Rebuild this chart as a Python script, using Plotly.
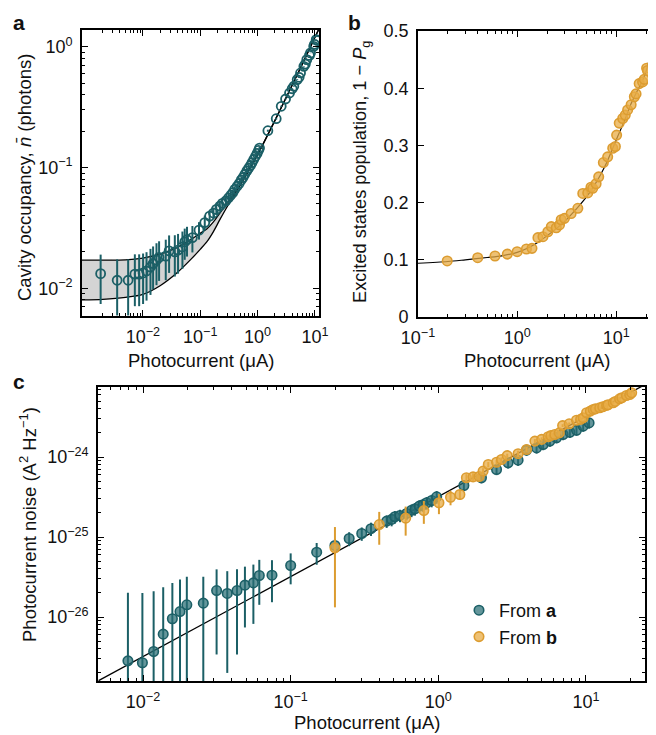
import plotly.graph_objects as go

# ---------------- data ----------------
# Panel a: cavity occupancy vs photocurrent (uA)
a_current = [0.00184, 0.00357, 0.00555, 0.00726, 0.00863, 0.0101, 0.0116, 0.0136, 0.0151, 0.0173,
             0.0192, 0.0251, 0.0287, 0.0361, 0.0411, 0.049, 0.0537, 0.0589, 0.0731, 0.0953,
             0.12, 0.146, 0.17, 0.191, 0.22, 0.243, 0.28, 0.31, 0.34, 0.37,
             0.40, 0.44, 0.48, 0.52, 0.56, 0.60, 0.65, 0.70, 0.75, 0.80,
             0.86, 0.92, 0.98, 1.04, 1.08, 1.51, 2.11, 2.58, 3.07, 3.6,
             4.0, 4.28, 4.9, 5.3, 5.6, 6.4, 6.8, 7.2, 8.0, 8.36, 9.5, 9.8, 10.5, 10.9]
a_occupancy = [0.0132, 0.01165, 0.01165, 0.0131, 0.0131, 0.0134, 0.0139, 0.0150, 0.0160, 0.0171,
               0.0180, 0.01845, 0.0204, 0.0200, 0.0207, 0.0220, 0.0242, 0.0253, 0.0263, 0.0303,
               0.035, 0.0396, 0.042, 0.045, 0.048, 0.0505, 0.053, 0.056, 0.059, 0.062,
               0.066, 0.070, 0.074, 0.079, 0.083, 0.088, 0.094, 0.099, 0.104, 0.110,
               0.117, 0.124, 0.131, 0.139, 0.145, 0.202, 0.254, 0.322, 0.37, 0.415,
               0.45, 0.472, 0.536, 0.56, 0.608, 0.69, 0.72, 0.785, 0.85, 0.891, 1.01, 1.05, 1.15, 1.13]
a_err = [0.0058, 0.0057, 0.0057, 0.006, 0.006, 0.006, 0.006, 0.0062, 0.0062, 0.0065,
         0.0065, 0.0068, 0.007, 0.0075, 0.0075, 0.0075, 0.007, 0.007, 0.0065, 0.005,
         0.005, 0.0045, 0.0045, 0.0045, 0.0045, 0.0045, 0.004, 0.004, 0.004, 0.004,
         0.004, 0.004, 0.004, 0.004, 0.004, 0.004, 0.004, 0.004, 0.004, 0.004,
         0.004, 0.004, 0.004, 0.004, 0.004, 0.004, 0.004, 0.004, 0.004, 0.004,
         0.004, 0.004, 0.004, 0.004, 0.004, 0.004, 0.004, 0.004, 0.004, 0.004, 0.004, 0.004, 0.004, 0.004]
# theory band (lower / upper bound)
a_band_current = [0.00085, 0.002, 0.005, 0.01, 0.02, 0.04, 0.07, 0.1, 0.13, 0.17, 0.22, 0.3,
                  0.4, 0.6, 1.0, 2.0, 5.0, 10.0, 12.0]
a_band_lower = [0.0080, 0.0081, 0.0084, 0.0089, 0.0105, 0.0135, 0.0175, 0.0210, 0.0242, 0.0295, 0.037, 0.048,
                0.060, 0.083, 0.128, 0.245, 0.60, 1.20, 1.45]
a_band_upper = [0.0171, 0.0171, 0.0172, 0.0178, 0.0192, 0.0218, 0.0255, 0.0285, 0.031, 0.0355, 0.042, 0.0515,
                0.062, 0.084, 0.128, 0.245, 0.60, 1.20, 1.45]

# Panel b: excited-state population vs photocurrent (uA)
b_current = [0.197, 0.40, 0.598, 0.796, 1.0, 1.24, 1.41, 1.62, 1.82, 2.04,
             2.21, 2.48, 2.67, 2.78, 3.0, 3.5, 4.09, 4.59, 5.15, 5.55,
             5.78, 6.25, 6.64, 7.4, 8.18, 9.2, 9.78, 10.07, 10.7, 11.6,
             12.3, 13.0, 14.1, 15.2, 15.8, 17.0, 18.4, 19.1, 20.2, 20.6]
b_population = [0.098, 0.1037, 0.1066, 0.110, 0.1142, 0.1189, 0.120, 0.1387, 0.1404, 0.149,
                0.158, 0.156, 0.161, 0.170, 0.1725, 0.181, 0.190, 0.216, 0.217, 0.2268,
                0.225, 0.233, 0.245, 0.27, 0.28, 0.295, 0.298, 0.318, 0.339, 0.347,
                0.353, 0.362, 0.371, 0.385, 0.390, 0.408, 0.411, 0.4155, 0.435, 0.431]
b_fit_current = [0.1, 0.2, 0.3, 0.5, 0.7, 1.0, 1.3, 1.7, 2.0, 2.5, 3.0, 4.0, 5.0, 6.0, 7.0, 8.0,
                 10.0, 12.0, 14.0, 16.0, 18.0, 20.0, 22.0, 24.6]
b_fit_population = [0.094, 0.097, 0.100, 0.104, 0.107, 0.113, 0.121, 0.133, 0.142, 0.155, 0.167, 0.19,
                    0.21, 0.23, 0.25, 0.27, 0.31, 0.342, 0.372, 0.393, 0.41, 0.43, 0.458, 0.5]

# Panel c: photocurrent noise (A^2/Hz) vs photocurrent (uA)
c_a_current = [0.0079, 0.0099, 0.0118, 0.0137, 0.0158, 0.0178, 0.0198, 0.0256, 0.0315, 0.0372,
               0.0433, 0.049, 0.0559, 0.0613, 0.0747, 0.1, 0.15, 0.1995, 0.249, 0.303,
               0.35, 0.447, 0.483, 0.508, 0.55, 0.61, 0.659, 0.695, 0.743, 0.786,
               0.834, 0.902, 0.975, 1.49, 1.96, 2.48, 2.97, 3.47, 3.96, 4.63,
               5.13, 5.7, 6.32, 7.0, 7.78, 8.63, 9.58, 10.5]
c_a_noise = [2.83e-27, 2.68e-27, 3.7e-27, 6.1e-27, 9.5e-27, 1.17e-26, 1.42e-26, 1.49e-26, 2.14e-26, 1.97e-26,
             2.14e-26, 2.5e-26, 2.67e-26, 3.3e-26, 3.33e-26, 4.4e-26, 6.46e-26, 7.83e-26, 9.58e-26, 1.106e-25,
             1.27e-25, 1.58e-25, 1.66e-25, 1.79e-25, 1.86e-25, 1.97e-25, 2.16e-25, 2.25e-25, 2.43e-25, 2.53e-25,
             2.68e-25, 2.86e-25, 3.18e-25, 4.4e-25, 5.5e-25, 6.98e-25, 8.45e-25, 9.12e-25, 1.22e-24, 1.30e-24,
             1.43e-24, 1.58e-24, 1.74e-24, 1.91e-24, 2.04e-24, 2.16e-24, 2.43e-24, 2.67e-24]
c_a_err = [1.72e-26, 1.73e-26, 1.73e-26, 1.75e-26, 1.72e-26, 1.77e-26, 1.76e-26, 1.69e-26, 1.8e-26, 1.77e-26,
           1.8e-26, 1.76e-26, 1.85e-26, 1.88e-26, 1.8e-26, 1.84e-26, 1.96e-26, 1.6e-26, 1.9e-26, 2.1e-26,
           2.4e-26, 2.8e-26, 3.0e-26, 3.2e-26, 3.3e-26, 3.5e-26, 3.9e-26, 4.0e-26, 4.4e-26, 4.6e-26,
           4.8e-26, 5.1e-26, 5.7e-26, 6.6e-26, 8.3e-26, 1.05e-25, 1.27e-25, 1.37e-25, 1.83e-25, 1.95e-25,
           2.15e-25, 2.37e-25, 2.6e-25, 2.9e-25, 3.1e-25, 3.2e-25, 3.6e-25, 4.0e-25]
c_b_current = [0.1995, 0.398, 0.601, 0.798, 1.01, 1.21, 1.40, 1.55, 1.72, 1.89,
               2.01, 2.18, 2.48, 2.68, 2.93, 3.47, 3.96, 4.51, 5.01, 5.55,
               5.78, 6.15, 6.6, 6.95, 7.7, 8.63, 9.2, 9.58, 10.1, 10.7,
               11.2, 11.6, 12.4, 13.0, 13.8, 14.1, 15.3, 15.8, 16.9, 17.5,
               18.8, 19.8, 20.4]
c_b_noise = [7.32e-26, 1.43e-25, 1.72e-25, 2.14e-25, 2.68e-25, 3.14e-25, 3.4e-25, 5.5e-25, 5.65e-25, 5.7e-25,
             6.65e-25, 8.05e-25, 8.6e-25, 9.3e-25, 1.04e-24, 1.1e-24, 1.24e-24, 1.58e-24, 1.66e-24, 1.79e-24,
             1.85e-24, 1.91e-24, 2.0e-24, 2.47e-24, 2.6e-24, 2.88e-24, 2.95e-24, 3.09e-24, 3.57e-24, 3.75e-24,
             3.93e-24, 4.0e-24, 4.12e-24, 4.25e-24, 4.41e-24, 4.5e-24, 4.76e-24, 4.95e-24, 5.34e-24, 5.5e-24,
             5.87e-24, 6.04e-24, 6.34e-24]
c_b_err = [6.0e-26, 6.3e-26, 6.8e-26, 6.8e-26, 7.5e-26, 6.5e-26, 5.0e-26, 6e-26, 6e-26, 6e-26,
           6e-26, 6e-26, 6e-26, 6e-26, 6e-26, 1e-25, 1e-25, 1e-25, 1e-25, 1e-25,
           1e-25, 1e-25, 1e-25, 1e-25, 1e-25, 1e-25, 1e-25, 1e-25, 1e-25, 1e-25,
           1e-25, 1e-25, 1e-25, 1e-25, 1e-25, 1e-25, 1e-25, 1e-25, 1e-25, 1e-25,
           1e-25, 1e-25, 1e-25]
# shot-noise line (2eI)
c_line_current = [0.005, 25.0]
c_line_noise = [1.6e-27, 8.0e-24]

# ---------------- styling ----------------
TEAL = "#1b5f66"
TEAL_FILL = "rgba(40,110,116,0.72)"
ORANGE = "#dc9c30"
ORANGE_FILL = "rgba(232,172,70,0.75)"
FONT = "Liberation Sans, Arial, Helvetica, sans-serif"
TICK_FS = 18
TITLE_FS = 18.5

W, H = 656, 735
OFF = 8  # page body margin offset in the browser


def px_x(p):
    return (p - OFF) / W


def px_y(p):
    return 1 - (p - OFF) / H


def sup(e):
    return "10<sup>" + (("\u2212" + str(-e)) if e < 0 else str(e)) + "</sup>"


def log_axis(domain, rng, exps, anchor, minor_lo, minor_hi):
    minors = [m * 10.0 ** k for k in range(minor_lo, minor_hi + 1) for m in range(2, 10)]
    return dict(
        type="log", domain=domain, range=rng, anchor=anchor, automargin=False,
        tickmode="array", tickvals=[10.0 ** e for e in exps], ticktext=[sup(e) for e in exps],
        ticks="inside", ticklen=6, tickwidth=1.3, tickcolor="black",
        minor=dict(tickmode="array", tickvals=minors, ticks="inside", ticklen=3.5,
                   tickwidth=1.1, tickcolor="black", showgrid=False),
        showline=True, linecolor="black", linewidth=1.6, mirror="ticks",
        showgrid=False, zeroline=False,
        tickfont=dict(family=FONT, size=TICK_FS, color="#111"),
        ticklabelstandoff=4,
    )


fig = go.Figure()

# ---- panel a ----
fig.add_trace(go.Scatter(x=a_band_current, y=a_band_lower, mode="lines",
                         line=dict(color="black", width=1.3, shape="spline", smoothing=0.8),
                         xaxis="x", yaxis="y", showlegend=False, hoverinfo="skip"))
fig.add_trace(go.Scatter(x=a_band_current, y=a_band_upper, mode="lines",
                         line=dict(color="black", width=1.3, shape="spline", smoothing=0.8),
                         fill="tonexty", fillcolor="rgb(212,212,212)", xaxis="x", yaxis="y",
                         showlegend=False, hoverinfo="skip"))
fig.add_trace(go.Scatter(x=a_current, y=a_occupancy, mode="markers", xaxis="x", yaxis="y",
                         marker=dict(symbol="circle-open", size=9, color=TEAL,
                                     line=dict(width=1.8, color=TEAL)),
                         error_y=dict(type="data", array=a_err, color=TEAL, thickness=2, width=0),
                         showlegend=False))

# ---- panel b ----
fig.add_trace(go.Scatter(x=b_fit_current, y=b_fit_population, mode="lines",
                         line=dict(color="black", width=1.2, shape="spline", smoothing=0.8),
                         xaxis="x2", yaxis="y2", showlegend=False, hoverinfo="skip"))
fig.add_trace(go.Scatter(x=b_current, y=b_population, mode="markers", xaxis="x2", yaxis="y2",
                         marker=dict(symbol="circle", size=9.5, color=ORANGE_FILL,
                                     line=dict(width=1.6, color=ORANGE)),
                         showlegend=False))

# ---- panel c ----
fig.add_trace(go.Scatter(x=c_line_current, y=c_line_noise, mode="lines",
                         line=dict(color="black", width=1.3), xaxis="x3", yaxis="y3",
                         showlegend=False, hoverinfo="skip"))
fig.add_trace(go.Scatter(x=c_a_current, y=c_a_noise, mode="markers", xaxis="x3", yaxis="y3",
                         name="From <b>a</b>",
                         marker=dict(symbol="circle", size=9.5, color=TEAL_FILL,
                                     line=dict(width=1.6, color=TEAL)),
                         error_y=dict(type="data", array=c_a_err, color=TEAL, thickness=2, width=0)))
fig.add_trace(go.Scatter(x=c_b_current, y=c_b_noise, mode="markers", xaxis="x3", yaxis="y3",
                         name="From <b>b</b>",
                         marker=dict(symbol="circle", size=9.5, color=ORANGE_FILL,
                                     line=dict(width=1.6, color=ORANGE)),
                         error_y=dict(type="data", array=c_b_err, color=ORANGE, thickness=2, width=0)))

# ---- axes ----
ax_a = log_axis([px_x(82), px_x(319)], [-3.06, 1.07], [-2, -1, 0, 1], "y", -4, 1)
ay_a = log_axis([px_y(316), px_y(30)], [-2.23, 0.14], [-2, -1, 0], "x", -3, 0)
ax_b = log_axis([px_x(418), px_x(655)], [-1, 1.39], [-1, 0, 1], "y2", -2, 1)
ay_b = dict(type="linear", domain=[px_y(317), px_y(31)], range=[0, 0.5], anchor="x2", automargin=False,
            tickmode="array", tickvals=[0, 0.1, 0.2, 0.3, 0.4, 0.5],
            ticktext=["0", "0.1", "0.2", "0.3", "0.4", "0.5"],
            ticks="inside", ticklen=6, tickwidth=1.3, tickcolor="black",
            showline=True, linecolor="black", linewidth=1.6, mirror="ticks",
            showgrid=False, zeroline=False,
            tickfont=dict(family=FONT, size=TICK_FS, color="#111"), ticklabelstandoff=4)
ax_c = log_axis([px_x(98), px_x(645)], [-2.305, 1.4], [-2, -1, 0, 1], "y3", -3, 1)
ay_c = log_axis([px_y(681), px_y(387)], [-26.8, -23.125], [-26, -25, -24], "x3", -27, -24)

fig.update_layout(
    width=W, height=H, margin=dict(l=0, r=0, t=0, b=0, autoexpand=False),
    paper_bgcolor="white", plot_bgcolor="white",
    font=dict(family=FONT, size=TITLE_FS, color="#111"),
    xaxis=ax_a, yaxis=ay_a, xaxis2=ax_b, yaxis2=ay_b, xaxis3=ax_c, yaxis3=ay_c,
    legend=dict(x=px_x(459), y=px_y(592), xanchor="left", yanchor="top",
                bgcolor="rgba(0,0,0,0)", font=dict(family=FONT, size=18, color="#111"),
                itemsizing="trace", tracegroupgap=0, traceorder="normal"),
    showlegend=True,
)

ann = [
    dict(text="<b>a</b>", x=px_x(11), y=px_y(9), xanchor="left", yanchor="top", font=dict(size=21)),
    dict(text="<b>b</b>", x=px_x(346), y=px_y(8.5), xanchor="left", yanchor="top", font=dict(size=21)),
    dict(text="<b>c</b>", x=px_x(11), y=px_y(368), xanchor="left", yanchor="top", font=dict(size=21)),
    dict(text="Photocurrent (\u03bcA)", x=px_x(201), y=px_y(360), xanchor="center", yanchor="middle"),
    dict(text="Photocurrent (\u03bcA)", x=px_x(537), y=px_y(360), xanchor="center", yanchor="middle"),
    dict(text="Photocurrent (\u03bcA)", x=px_x(367), y=px_y(722), xanchor="center", yanchor="middle"),
    dict(text="Cavity occupancy, <i>n\u0304</i> (photons)", x=px_x(24), y=px_y(178),
         xanchor="center", yanchor="middle", textangle=-90),
    dict(text="Excited states population, 1 \u2212 <i>P</i><sub>g</sub>", x=px_x(362), y=px_y(172),
         xanchor="center", yanchor="middle", textangle=-90, font=dict(size=18.2)),
    dict(text="Photocurrent noise (A<sup>2</sup> Hz<sup>\u22121</sup>)", x=px_x(28), y=px_y(525),
         xanchor="center", yanchor="middle", textangle=-90),
]
for a in ann:
    a.update(xref="paper", yref="paper", showarrow=False)
    a.setdefault("font", {})
    a["font"] = dict(family=FONT, size=a["font"].get("size", TITLE_FS), color="#111")
fig.update_layout(annotations=ann)

fig.write_html("out.html")
